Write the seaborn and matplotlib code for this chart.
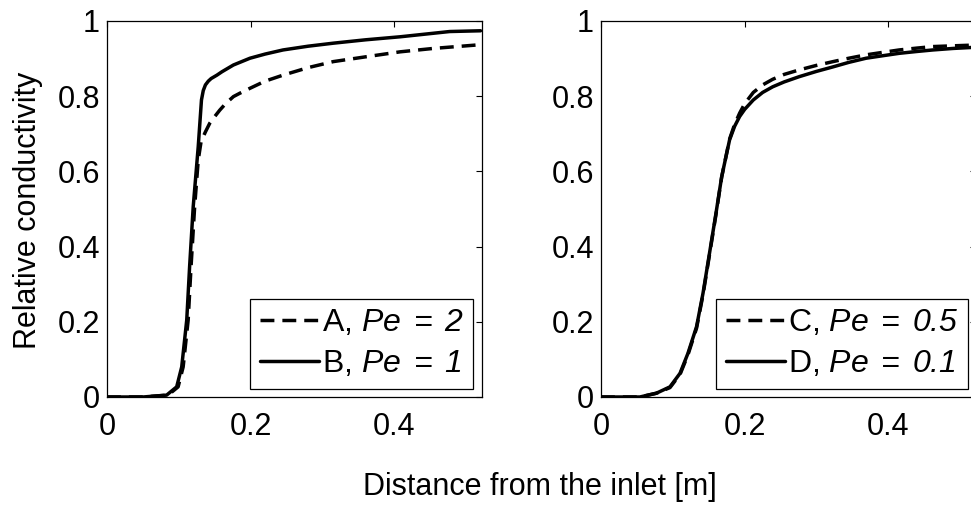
import matplotlib
matplotlib.use("Agg")
import matplotlib.pyplot as plt
import seaborn as sns
import pandas as pd

# Breakthrough curves: relative conductivity vs. distance from the inlet
xA = [0, 0.05, 0.085, 0.099, 0.106, 0.113, 0.117, 0.122, 0.127, 0.131, 0.137,
      0.143, 0.15, 0.157, 0.165, 0.176, 0.185, 0.199, 0.22, 0.245, 0.28, 0.315,
      0.361, 0.408, 0.454, 0.52]
yA = [0, 0, 0.005, 0.027, 0.08, 0.205, 0.347, 0.506, 0.63, 0.68, 0.705,
      0.728, 0.746, 0.763, 0.78, 0.799, 0.808, 0.821, 0.84, 0.856, 0.876, 0.892,
      0.905, 0.918, 0.927, 0.937]

xB = [0, 0.05, 0.083, 0.097, 0.104, 0.111, 0.115, 0.120, 0.127, 0.1315, 0.134,
      0.137, 0.141, 0.145, 0.153, 0.16, 0.176, 0.199, 0.22, 0.245, 0.28, 0.315,
      0.36, 0.408, 0.477, 0.52]
yB = [0, 0, 0.005, 0.027, 0.08, 0.205, 0.347, 0.506, 0.666, 0.79, 0.815,
      0.83, 0.84, 0.847, 0.856, 0.865, 0.883, 0.901, 0.912, 0.923, 0.933, 0.941,
      0.95, 0.958, 0.972, 0.974]

xCD = [0, 0.054, 0.077, 0.096, 0.11, 0.121, 0.133, 0.142, 0.151, 0.16, 0.168,
       0.179, 0.186, 0.193, 0.2, 0.212, 0.225, 0.239, 0.255, 0.276, 0.3, 0.323,
       0.345, 0.369, 0.39, 0.415, 0.44, 0.462, 0.49, 0.52]
yC = [0, 0, 0.01, 0.025, 0.06, 0.112, 0.183, 0.272, 0.378, 0.485, 0.585,
      0.686, 0.725, 0.755, 0.78, 0.81, 0.83, 0.845, 0.858, 0.870, 0.882, 0.892,
      0.901, 0.91, 0.916, 0.923, 0.928, 0.932, 0.934, 0.936]
yD = [0, 0, 0.01, 0.027, 0.063, 0.116, 0.187, 0.276, 0.382, 0.488, 0.586,
      0.684, 0.72, 0.746, 0.765, 0.79, 0.81, 0.825, 0.838, 0.852, 0.866, 0.878,
      0.89, 0.901, 0.907, 0.914, 0.919, 0.923, 0.927, 0.93]

labels = {
    "A": r"A, $Pe\;=\;2$",
    "B": r"B, $Pe\;=\;1$",
    "C": r"C, $Pe\;=\;0.5$",
    "D": r"D, $Pe\;=\;0.1$",
}
x_ticks = [0, 0.2, 0.4]
y_ticks = [0, 0.2, 0.4, 0.6, 0.8, 1]
x_label = "Distance from the inlet [m]"
y_label = "Relative conductivity"

sns.set_theme(style="white")
plt.rcParams["font.family"] = ["Liberation Sans", "DejaVu Sans"]
plt.rcParams["mathtext.fontset"] = "custom"
plt.rcParams["mathtext.rm"] = "Liberation Sans:italic"
plt.rcParams["mathtext.it"] = "Liberation Sans:italic"

FS = 22
W, H = 971, 507
fig = plt.figure(figsize=(W / 100, H / 100), dpi=100)
fig.patch.set_facecolor("white")

ax_w, ax_h = 375, 376
bottom = H - 397
ax1 = fig.add_axes([107 / W, bottom / H, ax_w / W, ax_h / H])
ax2 = fig.add_axes([601 / W, bottom / H, ax_w / W, ax_h / H])

dash = (0, (4.0, 2.3))
LW = 2.5


def draw(ax, series):
    for xs, ys, key, ls in series:
        df = pd.DataFrame({"x": xs, "y": ys})
        sns.lineplot(data=df, x="x", y="y", ax=ax, color="black", lw=LW,
                     linestyle=ls, label=labels[key], estimator=None,
                     sort=False)
    ax.set_xlim(0, 0.522)
    ax.set_ylim(0, 1)
    ax.set_xticks(x_ticks)
    ax.set_yticks(y_ticks)
    ax.set_xticklabels([f"{v:g}" for v in x_ticks])
    ax.set_yticklabels([f"{v:g}" for v in y_ticks])
    ax.set_xlabel("")
    ax.set_ylabel("")
    ax.tick_params(axis="both", direction="in", length=4, width=0.8,
                   color="black", labelsize=FS, labelcolor="black",
                   top=True, right=True)
    ax.tick_params(axis="x", pad=11)
    ax.tick_params(axis="y", pad=5)
    for s in ax.spines.values():
        s.set_visible(True)
        s.set_color("black")
        s.set_linewidth(0.9)
    ax.set_facecolor("white")
    ax.grid(False)


draw(ax1, [(xA, yA, "A", dash), (xB, yB, "B", "-")])
draw(ax2, [(xCD, yC, "C", dash), (xCD, yD, "D", "-")])


def legend(ax, anchor):
    leg = ax.legend(loc="lower right", bbox_to_anchor=anchor,
                    borderaxespad=0, fontsize=FS + 1, frameon=True,
                    fancybox=False, framealpha=1, edgecolor="black",
                    handlelength=1.85, handletextpad=0.08, borderpad=0.3,
                    labelspacing=0.35)
    leg.get_frame().set_linewidth(0.9)
    for t in leg.get_texts():
        t.set_color("black")


legend(ax1, ((473 - 107) / ax_w, 8 / ax_h))
legend(ax2, ((968 - 601) / ax_w, 8 / ax_h))

fig.text(540 / W, 1 - 495 / H, x_label, ha="center", va="baseline",
         fontsize=FS, color="black")
fig.text(36 / W, 1 - 210 / H, y_label, ha="center", va="baseline",
         rotation=90, rotation_mode="anchor", fontsize=FS, color="black")

fig.savefig("out.png", dpi=100, facecolor="white")
